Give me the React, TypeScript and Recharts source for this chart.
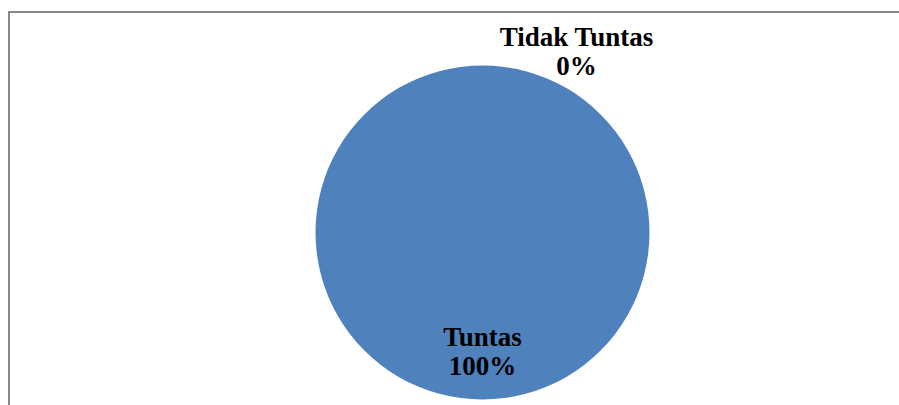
import { PieChart, Pie, Cell } from 'recharts';

const categories = ['Tuntas', 'Tidak Tuntas'];
const values = [100, 0];
const COLORS = ['#4F81BD', '#C0504D'];

const pieData = categories.map((name, i) => ({ name, value: values[i] }));

const RAD = Math.PI / 180;

function renderLabel(props: any) {
  const { cx, cy, midAngle, outerRadius, name, percent } = props;
  const pct = `${Math.round(percent * 100)}%`;
  let x: number;
  let y: number;
  if (percent > 0) {
    // inside the slice
    const r = outerRadius * 0.68;
    x = cx + r * Math.cos(-midAngle * RAD);
    y = cy + r * Math.sin(-midAngle * RAD);
  } else {
    // empty slice: label sits above the pie, a bit to the right
    x = cx + 94;
    y = cy - outerRadius - 20;
  }
  return (
    <text
      x={x}
      y={y}
      textAnchor="middle"
      fill="#000"
      fontFamily="'Liberation Serif', 'Times New Roman', serif"
      fontWeight="bold"
      fontSize={27}
    >
      <tspan x={x} y={y}>{name}</tspan>
      <tspan x={x} y={y + 29}>{pct}</tspan>
    </text>
  );
}

export default function App() {
  return (
    <div style={{ position: 'absolute', left: 0, top: 0, width: 899, height: 405, background: '#fff', overflow: 'hidden' }}>
      {/* chart area frame */}
      <div
        style={{
          position: 'absolute',
          left: 8,
          top: 11,
          width: 900,
          height: 420,
          borderLeft: '2px solid #878787',
          borderTop: '2px solid #878787',
        }}
      />
      <div style={{ position: 'absolute', left: 0, top: 0 }}>
        <PieChart width={899} height={405} margin={{ top: 0, right: 0, bottom: 0, left: 0 }}>
          <Pie
            data={pieData}
            dataKey="value"
            nameKey="name"
            cx={482.5}
            cy={232.5}
            outerRadius={167}
            startAngle={90}
            endAngle={-270}
            stroke="none"
            labelLine={false}
            label={renderLabel}
            isAnimationActive={false}
          >
            {pieData.map((entry, index) => (
              <Cell key={`cell-${index}`} fill={COLORS[index % COLORS.length]} />
            ))}
          </Pie>
        </PieChart>
      </div>
    </div>
  );
}
